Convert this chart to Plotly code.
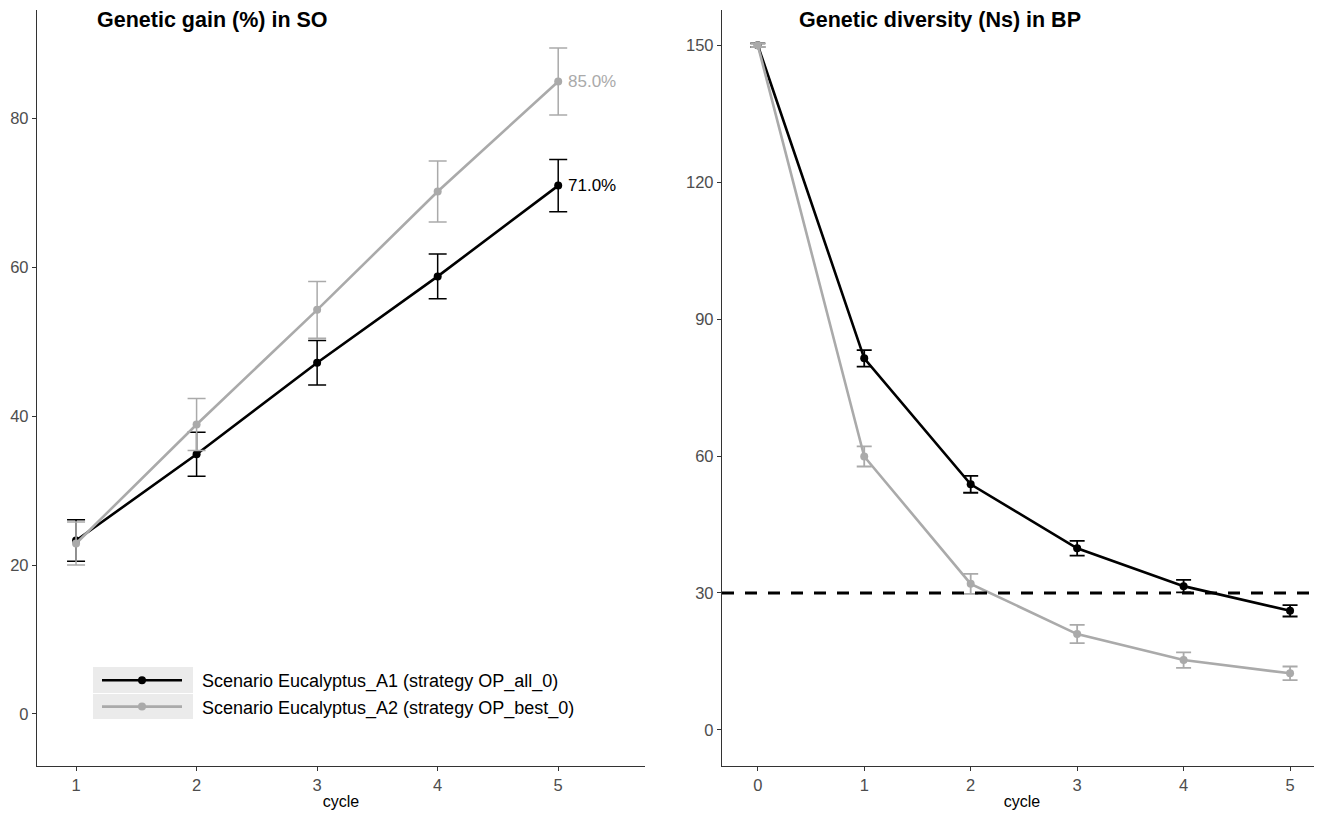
import plotly.graph_objects as go

# ---- data ----
cycles_gain = [1, 2, 3, 4, 5]
gain_A1 = [23.3, 34.9, 47.2, 58.8, 71.0]
gain_A1_err = [2.8, 2.95, 3.0, 3.0, 3.5]
gain_A2 = [22.9, 38.9, 54.3, 70.2, 85.0]
gain_A2_err = [2.9, 3.5, 3.8, 4.1, 4.5]

cycles_div = [0, 1, 2, 3, 4, 5]
div_A1 = [150, 81.4, 53.8, 39.8, 31.5, 26.1]
div_A1_err = [0.4, 1.8, 1.85, 1.6, 1.35, 1.25]
div_A2 = [150, 59.9, 32.0, 21.0, 15.3, 12.4]
div_A2_err = [0.4, 2.2, 2.2, 2.0, 1.7, 1.5]

threshold_Ns = 30
name_A1 = "Scenario Eucalyptus_A1 (strategy OP_all_0)"
name_A2 = "Scenario Eucalyptus_A2 (strategy OP_best_0)"
final_labels = ["71.0%", "85.0%"]

BLACK = "#000000"
GREY = "#aaaaaa"
FONT = "Liberation Sans, Arial, sans-serif"
PAD = "\u00a0\u00a0\u00a0"  # gap between legend key and label

# the page body adds an 8px offset; positions below are screen pixels
OFF = 8
W, H = 1322, 815
SCR_L, SCR_R, SCR_T, SCR_B = 37, 1322, 10, 766
L = SCR_L - OFF
T = SCR_T - OFF
R = W - (SCR_R - OFF)
B = H - (SCR_B - OFF)
PW = W - L - R
PH = H - T - B


def px_y(py):
    return 1 - (py - SCR_T) / PH


def px_x(px):
    return (px - SCR_L) / PW


fig = go.Figure()

for vals, errs, col, nm in [
    (gain_A1, gain_A1_err, BLACK, name_A1),
    (gain_A2, gain_A2_err, GREY, name_A2),
]:
    fig.add_trace(go.Scatter(
        x=cycles_gain, y=vals, mode="lines+markers", name=PAD + nm,
        line=dict(color=col, width=2.6), marker=dict(color=col, size=8),
        error_y=dict(type="data", array=errs, color=col, thickness=1.5, width=9),
        xaxis="x", yaxis="y", showlegend=True,
    ))

for vals, errs, col, nm in [
    (div_A1, div_A1_err, BLACK, name_A1),
    (div_A2, div_A2_err, GREY, name_A2),
]:
    fig.add_trace(go.Scatter(
        x=cycles_div, y=vals, mode="lines+markers", name=nm,
        line=dict(color=col, width=2.6), marker=dict(color=col, size=8),
        error_y=dict(type="data", array=errs, color=col, thickness=1.8, width=7.5),
        xaxis="x2", yaxis="y2", showlegend=False,
    ))

# final value labels
for vals, col, lab in [(gain_A1, BLACK, final_labels[0]), (gain_A2, GREY, final_labels[1])]:
    fig.add_annotation(x=cycles_gain[-1], y=vals[-1], xref="x", yref="y", text=lab,
                       showarrow=False, xanchor="left", xshift=8,
                       font=dict(color=col, size=17, family=FONT))

# threshold
fig.add_shape(type="line", xref="x2 domain", yref="y2", x0=0, x1=1,
              y0=threshold_Ns, y1=threshold_Ns,
              line=dict(color=BLACK, width=3, dash="12px,11px"))

# legend key backgrounds
for top, bot in [(667, 693), (694, 719)]:
    fig.add_shape(type="rect", xref="paper", yref="paper",
                  x0=px_x(93), x1=px_x(193), y0=px_y(bot), y1=px_y(top),
                  fillcolor="#ebebeb", line=dict(width=0), layer="below")

axis_common = dict(showline=True, linecolor="#333333", linewidth=1.3,
                   ticks="outside", ticklen=4, tickcolor="#333333", tickwidth=1.2,
                   showgrid=False, zeroline=False, automargin=False,
                   tickfont=dict(size=16.5, color="#4d4d4d", family=FONT))

fig.update_layout(
    width=W, height=H,
    margin=dict(l=L, r=R, t=T, b=B),
    paper_bgcolor="white", plot_bgcolor="white",
    font=dict(family=FONT),
    xaxis=dict(domain=[0, px_x(645)], range=[0.676, 5.72], anchor="y",
               tickvals=[1, 2, 3, 4, 5],
               title=dict(text="cycle", font=dict(size=16, color="#000000"), standoff=2),
               **axis_common),
    yaxis=dict(domain=[0, 1], range=[-7.0, 94.6], anchor="x",
               tickvals=[0, 20, 40, 60, 80], **axis_common),
    xaxis2=dict(domain=[px_x(722), 1.0], range=[-0.336, 5.3], anchor="y2",
                tickvals=[0, 1, 2, 3, 4, 5],
                title=dict(text="cycle", font=dict(size=16, color="#000000"), standoff=2),
                **axis_common),
    yaxis2=dict(domain=[0, 1], range=[-7.9, 157.7], anchor="x2",
                tickvals=[0, 30, 60, 90, 120, 150], **axis_common),
    legend=dict(x=px_x(97), y=px_y(662), xanchor="left", yanchor="top",
                bgcolor="rgba(0,0,0,0)", font=dict(size=18, color="#000000", family=FONT),
                itemwidth=80, tracegroupgap=0),
    showlegend=True,
)

fig.add_annotation(xref="paper", yref="paper", x=px_x(95), y=px_y(20),
                   text="<b>Genetic gain (%) in SO</b>", showarrow=False,
                   xanchor="left", yanchor="middle", font=dict(size=21.5, color="#000000", family=FONT))
fig.add_annotation(xref="paper", yref="paper", x=px_x(797), y=px_y(20),
                   text="<b>Genetic diversity (Ns) in BP</b>", showarrow=False,
                   xanchor="left", yanchor="middle", font=dict(size=21.5, color="#000000", family=FONT))

fig.write_html("out.html")
